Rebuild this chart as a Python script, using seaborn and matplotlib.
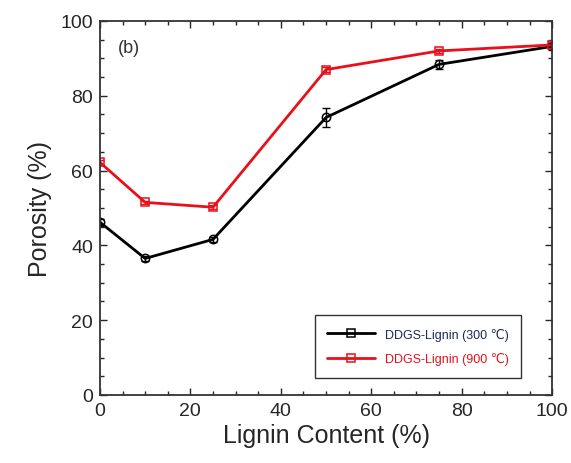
import matplotlib
matplotlib.use("Agg")
import matplotlib.pyplot as plt
from matplotlib.ticker import MultipleLocator
from matplotlib.lines import Line2D
import seaborn as sns
import pandas as pd

sns.set_style("ticks")
plt.rcParams['font.family'] = ['Liberation Sans', 'DejaVu Sans']

lignin = [0, 10, 25, 50, 75, 100]
porosity_300 = [46.2, 36.5, 41.6, 74.2, 88.4, 93.2]
err_300 = [0.8, 0.6, 0.6, 2.5, 1.3, 1.0]
porosity_900 = [62.2, 51.5, 50.2, 87.0, 92.0, 93.6]
err_900 = [0.6, 0.5, 0.5, 0.6, 0.6, 0.8]
labels = ["DDGS-Lignin (300 \u2103)", "DDGS-Lignin (900 \u2103)"]
colors = ["black", "#e8101a"]

df = pd.DataFrame({
    "Lignin": lignin * 2,
    "Porosity": porosity_300 + porosity_900,
    "Err": err_300 + err_900,
    "Series": [labels[0]] * len(lignin) + [labels[1]] * len(lignin),
})

fig = plt.figure(figsize=(5.71, 4.64), dpi=100)
ax = fig.add_axes([0.175, 0.1466, 0.792, 0.806])

markers = {labels[0]: "o", labels[1]: "s"}
sns.lineplot(data=df, x="Lignin", y="Porosity", hue="Series", style="Series",
             palette=colors, markers=markers, dashes=False, markersize=6,
             markerfacecolor="none", markeredgewidth=1.1, linewidth=2.0,
             legend=False, ax=ax)
for line, c in zip(ax.get_lines(), colors):
    line.set_markeredgecolor(c)
    line.set_markerfacecolor("none")

for (name, g), c in zip(df.groupby("Series", sort=False), colors):
    ax.errorbar(g["Lignin"], g["Porosity"], yerr=g["Err"], fmt="none",
                ecolor=c, elinewidth=1.0, capsize=3, capthick=1.0)

ax.set_xlim(0, 100)
ax.set_ylim(0, 100)
ax.xaxis.set_major_locator(MultipleLocator(20))
ax.xaxis.set_minor_locator(MultipleLocator(5))
ax.yaxis.set_major_locator(MultipleLocator(20))
ax.yaxis.set_minor_locator(MultipleLocator(5))
ax.tick_params(which="both", direction="in", top=True, right=True, width=1.0)
ax.tick_params(which="major", length=5, labelsize=14, pad=5)
ax.tick_params(which="minor", length=3)
for s in ax.spines.values():
    s.set_linewidth(1.3)
    s.set_color("#333333")

ax.set_xlabel("Lignin Content (%)", fontsize=18, labelpad=3)
ax.set_ylabel("Porosity (%)", fontsize=18, labelpad=6)
ax.text(0.04, 0.93, "(b)", transform=ax.transAxes, fontsize=13, color="#333333",
        va="center", ha="left")

handles = [Line2D([], [], color=c, lw=2.0, marker="s", markersize=6,
                  markerfacecolor="none", markeredgecolor=c, markeredgewidth=1.1)
           for c in colors]
leg = ax.legend(handles, labels, loc="lower right", bbox_to_anchor=(0.945, 0.03),
                fontsize=9, frameon=True, fancybox=False, edgecolor="black",
                handlelength=3.8, borderpad=1.0, labelspacing=0.9)
leg.get_frame().set_linewidth(1.0)
for t, c in zip(leg.get_texts(), ["#1a2a5a", "#e8101a"]):
    t.set_color(c)

fig.savefig("out.png", dpi=100)
